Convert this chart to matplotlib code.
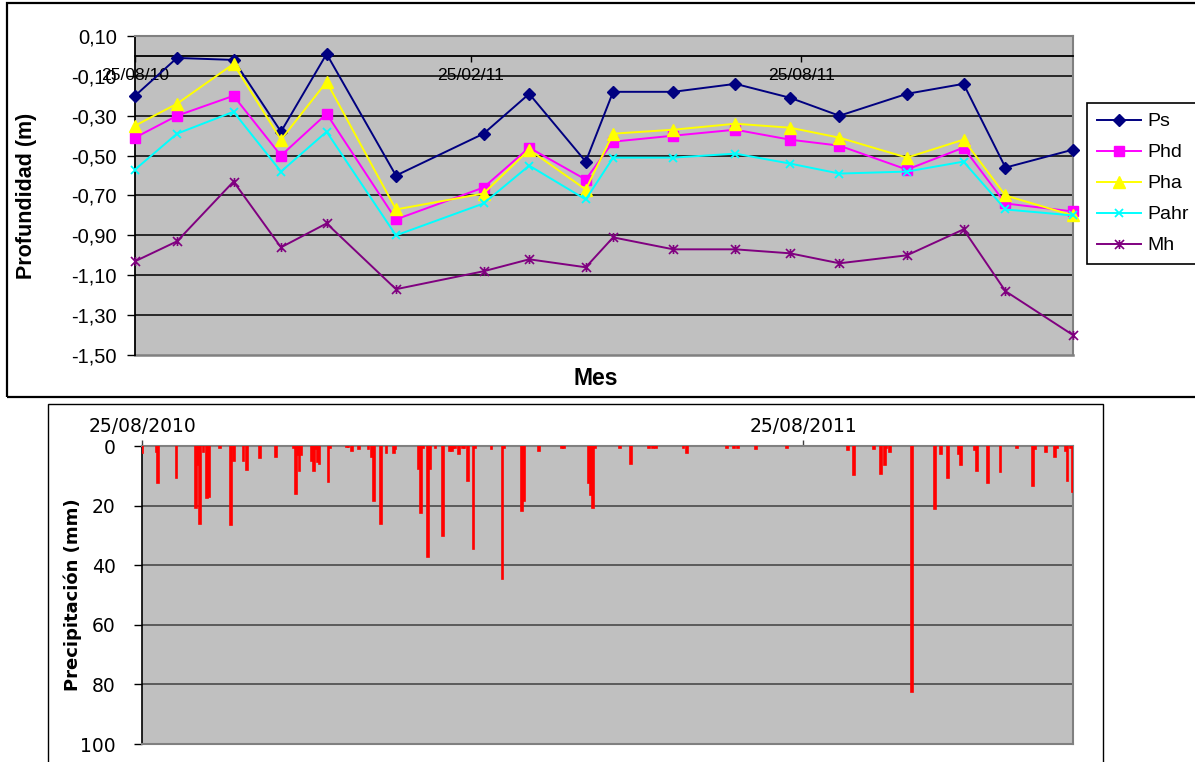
import matplotlib

matplotlib.use("Agg")
import matplotlib.pyplot as plt
import matplotlib.dates as mdates
import numpy as np
from matplotlib.patches import Rectangle
from matplotlib.path import Path
from matplotlib.ticker import FuncFormatter

plt.rcParams["font.family"] = "Liberation Sans"

# piezometer readings, depth in m
sample_dates = [
    "2010-08-25", "2010-09-17", "2010-10-18", "2010-11-13", "2010-12-08", "2011-01-15",
    "2011-03-04", "2011-03-29", "2011-04-29", "2011-05-14", "2011-06-16", "2011-07-20",
    "2011-08-19", "2011-09-15", "2011-10-22", "2011-11-22", "2011-12-15", "2012-01-21",
]
ps = [-0.20, -0.01, -0.02, -0.38, 0.01, -0.60, -0.39, -0.19, -0.53,
      -0.18, -0.18, -0.14, -0.21, -0.30, -0.19, -0.14, -0.56, -0.47]
phd = [-0.41, -0.30, -0.20, -0.50, -0.29, -0.82, -0.66, -0.46, -0.62,
       -0.43, -0.40, -0.37, -0.42, -0.45, -0.57, -0.46, -0.74, -0.78]
pha = [-0.35, -0.24, -0.04, -0.42, -0.13, -0.77, -0.69, -0.47, -0.67,
       -0.39, -0.37, -0.34, -0.36, -0.41, -0.51, -0.42, -0.70, -0.80]
pahr = [-0.57, -0.39, -0.28, -0.58, -0.38, -0.90, -0.74, -0.55, -0.72,
        -0.51, -0.51, -0.49, -0.54, -0.59, -0.58, -0.53, -0.77, -0.80]
mh = [-1.03, -0.93, -0.63, -0.96, -0.84, -1.17, -1.08, -1.02, -1.06,
      -0.91, -0.97, -0.97, -0.99, -1.04, -1.00, -0.87, -1.18, -1.40]
series_names = ["Ps", "Phd", "Pha", "Pahr", "Mh"]
depth_ticks = ["2010-08-25", "2011-02-25", "2011-08-25"]

# daily rainfall (mm); days counted from start_date
start_date = "2010-08-25"
rain_day = [
    0, 8, 9, 19, 30, 31, 32, 34, 36, 37, 43, 49, 51, 56, 58, 65, 74, 84, 85, 86,
    87, 88, 94, 95, 96, 97, 98, 103, 104, 113, 114, 116, 120, 125, 127, 128, 132, 135, 139, 140,
    153, 154, 155, 158, 159, 162, 166, 170, 171, 172, 173, 175, 177, 178, 180, 183, 184, 193, 199, 200,
    210, 211, 219, 232, 233, 247, 248, 249, 250, 264, 270, 280, 282, 284, 299, 301, 323, 327, 329, 339,
    356, 390, 393, 404, 408, 410, 411, 413, 425, 438, 441, 445, 451, 452, 460, 461, 467, 474, 483, 492,
    493, 499, 504, 505, 510, 511, 513, 514,
]
rain_mm = [
    2.5, 2.0, 12.5, 10.6, 20.7, 6.5, 26.1, 2.0, 17.6, 17.2, 0.7, 26.4, 5.1, 5.1, 7.9, 3.9, 3.7, 0.7, 16.2, 3.1,
    8.3, 3.1, 5.1, 8.3, 0.9, 5.4, 5.9, 12.2, 0.7, 0.5, 0.5, 1.6, 0.9, 0.9, 3.7, 18.5, 26.1, 2.5, 2.5, 0.9,
    7.8, 22.6, 0.7, 37.4, 7.6, 0.7, 30.2, 1.8, 1.8, 0.7, 0.7, 2.7, 0.7, 0.7, 11.8, 34.6, 0.7, 1.1, 44.5, 0.7,
    21.8, 18.5, 1.8, 0.7, 0.7, 12.4, 16.5, 20.7, 0.7, 0.7, 6.1, 0.7, 0.7, 0.7, 0.7, 2.3, 0.7, 0.7, 0.7, 0.9,
    0.7, 1.5, 9.8, 0.9, 9.5, 6.3, 0.7, 2.1, 82.6, 21.2, 2.8, 10.9, 2.6, 6.5, 1.5, 8.3, 12.5, 8.6, 0.7, 13.4,
    0.9, 2.1, 3.7, 0.7, 1.8, 11.6, 0.7, 15.4,
]
rain_ticks = ["2010-08-25", "2011-08-25"]

W, H = 1195, 762


def fx(px):
    return px / W


def fy(py):
    return 1 - py / H


# Excel style star: an X crossed by a vertical bar
star = Path([(-1, -1), (1, 1), (-1, 1), (1, -1), (0, -1), (0, 1)],
            [Path.MOVETO, Path.LINETO, Path.MOVETO, Path.LINETO, Path.MOVETO, Path.LINETO])

styles = {
    "Ps": dict(color="#000080", marker="D", ms=5.8),
    "Phd": dict(color="#FF00FF", marker="s", ms=7),
    "Pha": dict(color="#FFFF00", marker="^", ms=8),
    "Pahr": dict(color="#00FFFF", marker="x", ms=5.5, mew=1.3),
    "Mh": dict(color="#800080", marker=star, ms=6.5, mew=1.2),
}

fig = plt.figure(figsize=(W / 100, H / 100), dpi=100)

# ---- depth chart ----
dates = np.array(sample_dates, dtype="datetime64[D]")
ax1 = fig.add_axes([fx(135), fy(355), fx(938), 319 / H])
ax1.set_facecolor("#C0C0C0")
ax1.set_xlim(dates[0], dates[-1])
ax1.set_ylim(-1.5, 0.1)

yt = np.round(np.arange(0.10, -1.51, -0.20), 2)
ax1.hlines(yt[1:-1], dates[0], dates[-1], colors="black", lw=1.1, zorder=1)
ax1.axhline(-1.5, color="#808080", lw=1.8, clip_on=False, zorder=1)

handles = []
for name, vals in zip(series_names, [ps, phd, pha, pahr, mh]):
    st = styles[name]
    (ln,) = ax1.plot(dates, vals, color=st["color"], lw=1.4, marker=st["marker"],
                     markersize=st["ms"], markeredgewidth=st.get("mew", 1.0),
                     markerfacecolor=st["color"], markeredgecolor=st["color"],
                     clip_on=False, zorder=3)
    handles.append(ln)

ax1.spines["bottom"].set_position(("data", 0))
for side in ("left", "bottom"):
    ax1.spines[side].set_color("black")
    ax1.spines[side].set_linewidth(1.3)
for side in ("top", "right"):
    ax1.spines[side].set_color("#808080")
    ax1.spines[side].set_linewidth(1.5)

ax1.set_yticks(yt)
ax1.yaxis.set_major_formatter(FuncFormatter(lambda v, p: f"{v:.2f}".replace(".", ",")))
ax1.set_xticks(np.array(depth_ticks, dtype="datetime64[D]"))
ax1.xaxis.set_major_formatter(mdates.DateFormatter("%d/%m/%y"))
ax1.tick_params(axis="y", direction="out", length=6, width=1, pad=7, labelsize=14.5)
ax1.tick_params(axis="x", direction="out", length=4, width=1, pad=5, labelsize=12.6)

fig.text(fx(27), fy(196), "Profundidad (m)", rotation=90, ha="center", va="center",
         fontsize=15.5, fontweight="bold")
fig.text(fx(596), fy(379), "Mes", ha="center", va="center", fontsize=16.5, fontweight="bold")

leg = ax1.legend(handles, series_names, loc="upper left", bbox_to_anchor=(fx(1087), fy(103)),
                 bbox_transform=fig.transFigure, borderaxespad=0, fancybox=False,
                 edgecolor="black", framealpha=1, fontsize=14, handlelength=2.3,
                 handletextpad=0.3, borderpad=0.5, labelspacing=0.69)
leg.get_frame().set_linewidth(1.2)

fig.add_artist(Rectangle((fx(7), fy(397)), 1.1, 394 / H, transform=fig.transFigure,
                         fill=False, edgecolor="black", lw=1.6))

# ---- rainfall chart ----
start = np.datetime64(start_date)
rain_dates = start + np.array(rain_day)
ax2 = fig.add_axes([fx(142), fy(744), fx(931), 298 / H])
ax2.set_facecolor("#C0C0C0")
ax2.bar(rain_dates, rain_mm, width=1.0, color="#FF0000", edgecolor="#FF0000",
        linewidth=1.2, zorder=3)
ax2.set_xlim(start, dates[-1])
ax2.set_ylim(100, 0)

rt = np.arange(0, 101, 20)
ax2.hlines(rt[1:-1], start, dates[-1], colors="#404040", lw=1.1, zorder=1)
ax2.set_yticks(rt)
ax2.spines["left"].set_color("black")
ax2.spines["left"].set_linewidth(1.2)
for side in ("top", "right", "bottom"):
    ax2.spines[side].set_color("#808080")
    ax2.spines[side].set_linewidth(1.5)

ax2.xaxis.tick_top()
ax2.set_xticks(np.array(rain_ticks, dtype="datetime64[D]"))
ax2.xaxis.set_major_formatter(mdates.DateFormatter("%d/%m/%Y"))
ax2.tick_params(axis="x", direction="out", length=4, width=1, pad=3, labelsize=13.5,
                color="#404040", labelfontfamily="DejaVu Sans")
ax2.tick_params(axis="y", direction="out", length=6, width=1, pad=13, labelsize=13.5,
                labelfontfamily="DejaVu Sans")

fig.text(fx(73), fy(595), "Precipitación (mm)", rotation=90, ha="center", va="center",
         fontsize=13, fontweight="bold", family="DejaVu Sans")

fig.add_artist(Rectangle((fx(48), -0.1), fx(1103 - 48), fy(404) + 0.1,
                         transform=fig.transFigure, fill=False, edgecolor="black", lw=1.0))

fig.savefig("out.png", dpi=100)
